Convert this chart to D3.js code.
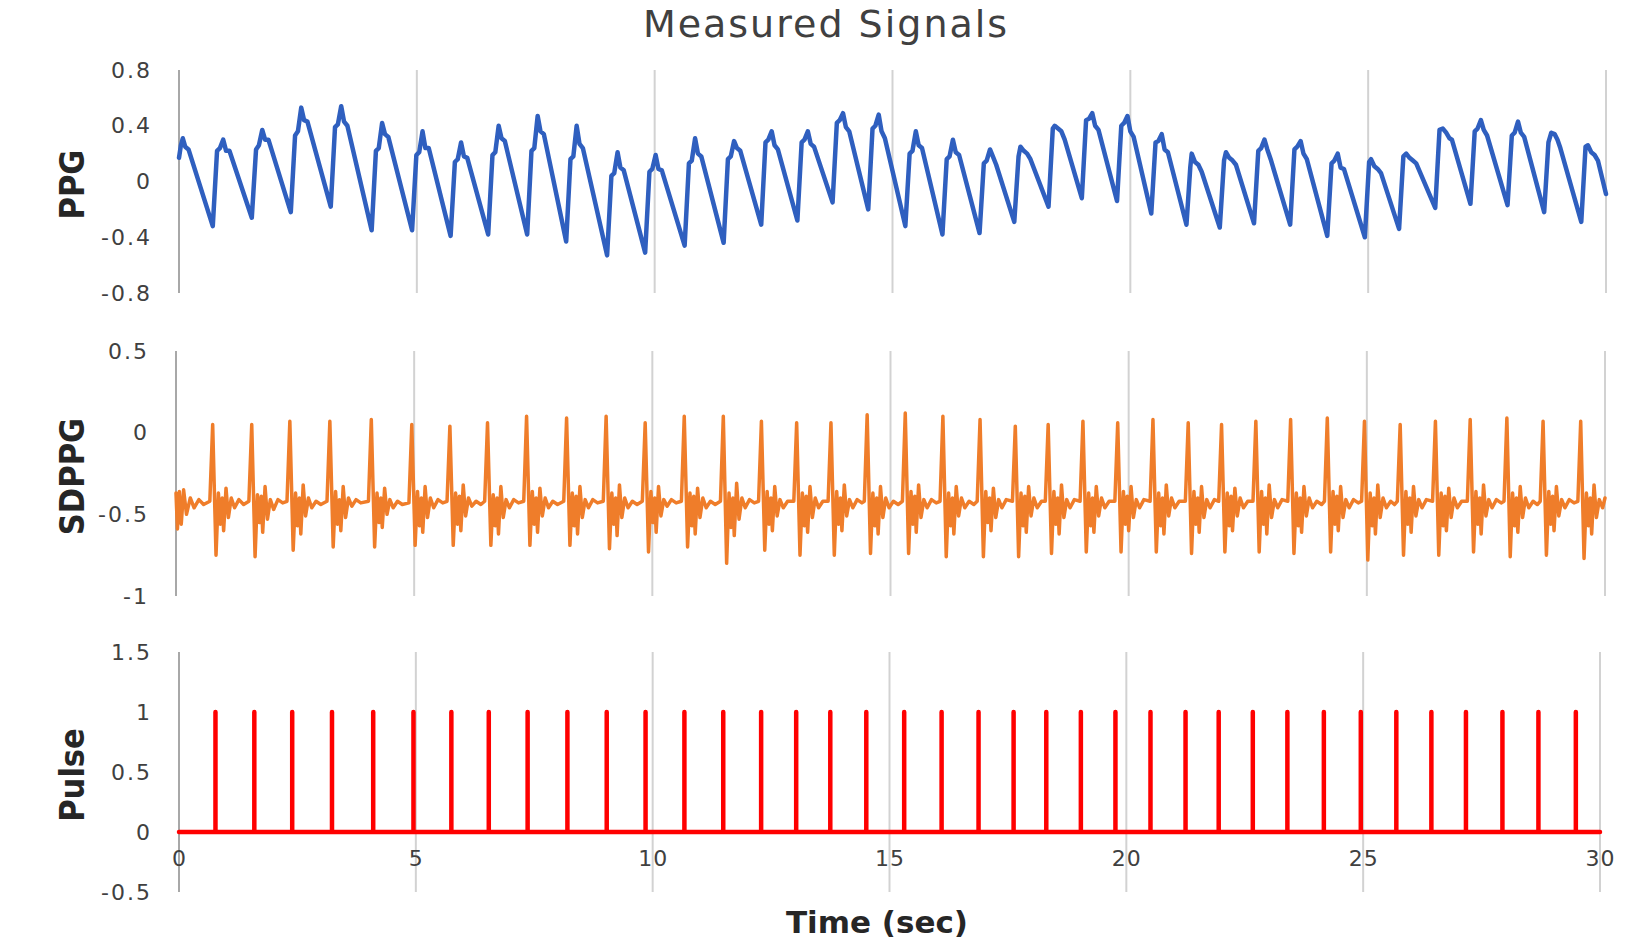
<!DOCTYPE html>
<html><head><meta charset="utf-8">
<script src="https://cdn.jsdelivr.net/npm/d3@7"></script>
<style>body{margin:0;background:#fff}svg{display:block}</style>
</head><body><svg id="c" width="1650" height="945"></svg>
<script>
// ---------- data ----------
const timeTicks = [0, 5, 10, 15, 20, 25, 30];
const ppgTicks = [-0.8, -0.4, 0, 0.4, 0.8];
const sdppgTicks = [-1, -0.5, 0, 0.5];
const pulseTicks = [-0.5, 0, 0.5, 1, 1.5];

// PPG signal vertices [time (s), value]
const ppg = [
[0.00,0.17],[0.04,0.26],[0.08,0.31],[0.13,0.25],[0.20,0.23],
[0.71,-0.32],[0.80,0.22],[0.86,0.24],[0.93,0.30],[0.99,0.22],[1.06,0.22],
[1.53,-0.26],[1.62,0.23],[1.68,0.26],[1.75,0.37],[1.81,0.30],[1.88,0.30],
[2.35,-0.22],[2.44,0.33],[2.50,0.36],[2.57,0.53],[2.63,0.44],[2.70,0.43],
[3.19,-0.18],[3.28,0.39],[3.34,0.41],[3.41,0.54],[3.47,0.43],[3.54,0.40],
[4.05,-0.35],[4.14,0.22],[4.20,0.24],[4.27,0.42],[4.33,0.34],[4.40,0.32],
[4.90,-0.35],[4.99,0.19],[5.05,0.21],[5.12,0.36],[5.18,0.24],[5.25,0.24],
[5.71,-0.39],[5.80,0.14],[5.86,0.16],[5.93,0.28],[5.99,0.18],[6.06,0.17],
[6.50,-0.38],[6.59,0.19],[6.65,0.21],[6.72,0.40],[6.78,0.31],[6.85,0.29],
[7.32,-0.38],[7.41,0.22],[7.47,0.24],[7.54,0.47],[7.60,0.36],[7.67,0.34],
[8.14,-0.43],[8.23,0.16],[8.29,0.18],[8.36,0.40],[8.42,0.27],[8.49,0.24],
[9.00,-0.53],[9.09,0.04],[9.15,0.06],[9.22,0.21],[9.28,0.10],[9.35,0.08],
[9.80,-0.51],[9.89,0.07],[9.95,0.09],[10.02,0.19],[10.08,0.09],[10.15,0.08],
[10.63,-0.46],[10.72,0.13],[10.78,0.15],[10.85,0.31],[10.91,0.20],[10.98,0.18],
[11.45,-0.44],[11.54,0.16],[11.60,0.18],[11.67,0.29],[11.73,0.24],[11.80,0.22],
[12.24,-0.31],[12.33,0.28],[12.39,0.30],[12.46,0.36],[12.52,0.26],[12.59,0.23],
[13.00,-0.28],[13.09,0.28],[13.15,0.30],[13.22,0.36],[13.28,0.27],[13.35,0.25],
[13.74,-0.15],[13.83,0.42],[13.89,0.44],[13.96,0.49],[14.02,0.39],[14.09,0.36],
[14.49,-0.20],[14.58,0.38],[14.64,0.40],[14.71,0.48],[14.77,0.36],[14.84,0.31],
[15.27,-0.32],[15.36,0.20],[15.42,0.22],[15.49,0.36],[15.55,0.26],[15.62,0.24],
[16.05,-0.38],[16.14,0.16],[16.20,0.18],[16.27,0.30],[16.33,0.21],[16.40,0.19],
[16.83,-0.37],[16.92,0.13],[16.98,0.15],[17.05,0.23],[17.11,0.18],[17.18,0.12],
[17.56,-0.29],[17.65,0.18],[17.69,0.25],[17.76,0.22],[17.83,0.20],[17.90,0.16],
[18.28,-0.18],[18.37,0.38],[18.41,0.40],[18.48,0.38],[18.55,0.36],[18.62,0.30],
[18.98,-0.12],[19.07,0.44],[19.13,0.45],[19.20,0.49],[19.26,0.40],[19.33,0.37],
[19.72,-0.14],[19.81,0.40],[19.87,0.42],[19.94,0.47],[20.00,0.36],[20.07,0.32],
[20.44,-0.23],[20.53,0.28],[20.59,0.29],[20.66,0.34],[20.72,0.23],[20.79,0.21],
[21.18,-0.31],[21.26,0.10],[21.29,0.20],[21.36,0.14],[21.43,0.12],[21.50,0.07],
[21.88,-0.33],[21.97,0.15],[22.01,0.21],[22.08,0.17],[22.15,0.15],[22.22,0.12],
[22.60,-0.30],[22.69,0.22],[22.75,0.24],[22.82,0.30],[22.88,0.23],[22.95,0.16],
[23.36,-0.31],[23.45,0.23],[23.51,0.25],[23.58,0.29],[23.64,0.20],[23.71,0.16],
[24.14,-0.39],[24.23,0.13],[24.29,0.15],[24.36,0.20],[24.42,0.10],[24.49,0.09],
[24.93,-0.40],[25.02,0.14],[25.06,0.16],[25.13,0.11],[25.20,0.09],[25.27,0.06],
[25.65,-0.34],[25.74,0.18],[25.80,0.20],[25.87,0.17],[25.94,0.15],[26.01,0.13],
[26.41,-0.19],[26.50,0.37],[26.57,0.38],[26.64,0.35],[26.71,0.31],[26.76,0.30],
[27.15,-0.16],[27.24,0.36],[27.30,0.38],[27.37,0.44],[27.43,0.37],[27.50,0.33],
[27.93,-0.17],[28.02,0.33],[28.08,0.35],[28.15,0.43],[28.21,0.35],[28.28,0.32],
[28.70,-0.22],[28.79,0.28],[28.85,0.35],[28.92,0.34],[28.98,0.30],[29.04,0.24],
[29.48,-0.29],[29.57,0.25],[29.62,0.26],[29.69,0.21],[29.76,0.19],[29.83,0.15],
[30.00,-0.09]
];

// SDPPG signal vertices [time (s), value]
const sdppg = [
[0.00,-0.37],[0.03,-0.59],[0.07,-0.36],[0.11,-0.56],[0.16,-0.35],[0.22,-0.50],[0.30,-0.40],[0.38,-0.46],[0.48,-0.41],[0.58,-0.44],
[0.71,-0.42],[0.77,0.05],[0.84,-0.75],[0.89,-0.37],[0.93,-0.56],[0.97,-0.40],[1.00,-0.60],[1.05,-0.34],[1.10,-0.52],[1.16,-0.40],[1.23,-0.46],[1.32,-0.41],[1.42,-0.44],
[1.53,-0.42],[1.59,0.05],[1.66,-0.76],[1.71,-0.38],[1.75,-0.55],[1.79,-0.39],[1.82,-0.61],[1.87,-0.33],[1.92,-0.53],[1.98,-0.41],[2.05,-0.47],[2.14,-0.41],[2.24,-0.43],
[2.33,-0.42],[2.39,0.07],[2.46,-0.72],[2.51,-0.37],[2.55,-0.57],[2.59,-0.40],[2.62,-0.62],[2.67,-0.32],[2.72,-0.51],[2.78,-0.40],[2.85,-0.46],[2.94,-0.42],[3.04,-0.44],
[3.17,-0.42],[3.23,0.07],[3.30,-0.70],[3.35,-0.36],[3.39,-0.56],[3.43,-0.41],[3.46,-0.60],[3.51,-0.33],[3.56,-0.52],[3.62,-0.40],[3.69,-0.45],[3.78,-0.41],[3.88,-0.43],
[4.04,-0.42],[4.10,0.08],[4.17,-0.70],[4.22,-0.37],[4.26,-0.55],[4.30,-0.40],[4.33,-0.58],[4.38,-0.34],[4.43,-0.50],[4.49,-0.41],[4.56,-0.46],[4.65,-0.42],[4.75,-0.44],
[4.89,-0.43],[4.95,0.05],[5.02,-0.69],[5.07,-0.36],[5.11,-0.57],[5.15,-0.40],[5.18,-0.61],[5.23,-0.33],[5.28,-0.52],[5.34,-0.40],[5.41,-0.46],[5.50,-0.41],[5.60,-0.43],
[5.69,-0.42],[5.75,0.04],[5.82,-0.69],[5.87,-0.37],[5.91,-0.56],[5.95,-0.39],[5.98,-0.60],[6.03,-0.32],[6.08,-0.51],[6.14,-0.40],[6.21,-0.45],[6.30,-0.42],[6.40,-0.44],
[6.48,-0.42],[6.54,0.06],[6.61,-0.69],[6.66,-0.38],[6.70,-0.57],[6.74,-0.40],[6.77,-0.62],[6.82,-0.33],[6.87,-0.52],[6.93,-0.41],[7.00,-0.46],[7.09,-0.41],[7.19,-0.43],
[7.30,-0.42],[7.36,0.10],[7.43,-0.69],[7.48,-0.36],[7.52,-0.56],[7.56,-0.40],[7.59,-0.61],[7.64,-0.34],[7.69,-0.51],[7.75,-0.40],[7.82,-0.46],[7.91,-0.42],[8.01,-0.44],
[8.14,-0.42],[8.20,0.09],[8.27,-0.69],[8.32,-0.37],[8.36,-0.57],[8.40,-0.39],[8.43,-0.62],[8.48,-0.33],[8.53,-0.52],[8.59,-0.41],[8.66,-0.46],[8.75,-0.41],[8.85,-0.43],
[8.97,-0.42],[9.03,0.10],[9.10,-0.71],[9.15,-0.37],[9.19,-0.56],[9.23,-0.40],[9.26,-0.63],[9.31,-0.32],[9.36,-0.52],[9.42,-0.40],[9.49,-0.46],[9.58,-0.42],[9.68,-0.44],
[9.79,-0.42],[9.85,0.06],[9.92,-0.73],[9.97,-0.36],[10.01,-0.55],[10.05,-0.40],[10.08,-0.61],[10.13,-0.33],[10.18,-0.51],[10.24,-0.41],[10.31,-0.45],[10.40,-0.41],[10.50,-0.43],
[10.61,-0.42],[10.67,0.10],[10.74,-0.70],[10.79,-0.37],[10.83,-0.57],[10.87,-0.39],[10.90,-0.62],[10.95,-0.34],[11.00,-0.52],[11.06,-0.40],[11.13,-0.46],[11.22,-0.42],[11.32,-0.44],
[11.43,-0.42],[11.49,0.10],[11.56,-0.80],[11.61,-0.37],[11.65,-0.58],[11.69,-0.40],[11.72,-0.63],[11.77,-0.31],[11.82,-0.53],[11.88,-0.40],[11.95,-0.46],[12.04,-0.41],[12.14,-0.43],
[12.23,-0.42],[12.29,0.07],[12.36,-0.72],[12.41,-0.36],[12.45,-0.56],[12.49,-0.40],[12.52,-0.60],[12.57,-0.33],[12.62,-0.51],[12.68,-0.41],[12.75,-0.46],[12.84,-0.42],
[12.97,-0.42],[13.03,0.06],[13.10,-0.75],[13.15,-0.37],[13.19,-0.57],[13.23,-0.39],[13.26,-0.61],[13.31,-0.33],[13.36,-0.52],[13.42,-0.40],[13.49,-0.46],[13.58,-0.42],
[13.69,-0.42],[13.75,0.06],[13.82,-0.75],[13.87,-0.36],[13.91,-0.56],[13.95,-0.40],[13.98,-0.60],[14.03,-0.32],[14.08,-0.51],[14.14,-0.41],[14.21,-0.46],[14.30,-0.41],[14.40,-0.43],
[14.45,-0.42],[14.51,0.11],[14.58,-0.74],[14.63,-0.37],[14.67,-0.57],[14.71,-0.40],[14.74,-0.62],[14.79,-0.33],[14.84,-0.52],[14.90,-0.40],[14.97,-0.46],[15.06,-0.42],[15.16,-0.44],
[15.25,-0.42],[15.31,0.12],[15.38,-0.74],[15.43,-0.36],[15.47,-0.56],[15.51,-0.39],[15.54,-0.61],[15.59,-0.32],[15.64,-0.52],[15.70,-0.41],[15.77,-0.46],[15.86,-0.41],[15.96,-0.43],
[16.04,-0.42],[16.10,0.10],[16.17,-0.76],[16.22,-0.37],[16.26,-0.57],[16.30,-0.40],[16.33,-0.62],[16.38,-0.33],[16.43,-0.51],[16.49,-0.40],[16.56,-0.46],[16.65,-0.42],[16.75,-0.44],
[16.82,-0.42],[16.88,0.08],[16.95,-0.76],[17.00,-0.36],[17.04,-0.55],[17.08,-0.40],[17.11,-0.60],[17.16,-0.34],[17.21,-0.52],[17.27,-0.41],[17.34,-0.46],[17.43,-0.41],
[17.56,-0.42],[17.62,0.04],[17.69,-0.76],[17.74,-0.37],[17.78,-0.57],[17.82,-0.39],[17.85,-0.61],[17.90,-0.33],[17.95,-0.51],[18.01,-0.40],[18.08,-0.46],[18.17,-0.42],
[18.25,-0.42],[18.31,0.05],[18.38,-0.74],[18.43,-0.36],[18.47,-0.56],[18.51,-0.40],[18.54,-0.62],[18.59,-0.32],[18.64,-0.52],[18.70,-0.41],[18.77,-0.46],[18.86,-0.41],
[18.98,-0.42],[19.04,0.07],[19.11,-0.73],[19.16,-0.37],[19.20,-0.57],[19.24,-0.40],[19.27,-0.61],[19.32,-0.33],[19.37,-0.51],[19.43,-0.40],[19.50,-0.46],[19.59,-0.42],
[19.71,-0.42],[19.77,0.06],[19.84,-0.73],[19.89,-0.36],[19.93,-0.56],[19.97,-0.39],[20.00,-0.60],[20.05,-0.33],[20.10,-0.52],[20.16,-0.41],[20.23,-0.46],[20.32,-0.41],
[20.45,-0.42],[20.51,0.08],[20.58,-0.73],[20.63,-0.37],[20.67,-0.57],[20.71,-0.40],[20.74,-0.62],[20.79,-0.32],[20.84,-0.51],[20.90,-0.40],[20.97,-0.46],[21.06,-0.42],
[21.19,-0.42],[21.25,0.06],[21.32,-0.74],[21.37,-0.36],[21.41,-0.56],[21.45,-0.40],[21.48,-0.61],[21.53,-0.33],[21.58,-0.52],[21.64,-0.41],[21.71,-0.46],[21.80,-0.41],
[21.89,-0.42],[21.95,0.05],[22.02,-0.73],[22.07,-0.37],[22.11,-0.57],[22.15,-0.39],[22.18,-0.60],[22.23,-0.34],[22.28,-0.51],[22.34,-0.40],[22.41,-0.46],[22.50,-0.42],
[22.61,-0.42],[22.67,0.07],[22.74,-0.73],[22.79,-0.36],[22.83,-0.56],[22.87,-0.40],[22.90,-0.62],[22.95,-0.32],[23.00,-0.52],[23.06,-0.41],[23.13,-0.46],[23.22,-0.41],
[23.34,-0.42],[23.40,0.08],[23.47,-0.74],[23.52,-0.37],[23.56,-0.57],[23.60,-0.40],[23.63,-0.61],[23.68,-0.33],[23.73,-0.51],[23.79,-0.40],[23.86,-0.46],[23.95,-0.42],[24.05,-0.44],
[24.11,-0.42],[24.17,0.09],[24.24,-0.73],[24.29,-0.36],[24.33,-0.56],[24.37,-0.39],[24.40,-0.60],[24.45,-0.33],[24.50,-0.52],[24.56,-0.41],[24.63,-0.46],[24.72,-0.41],[24.82,-0.43],
[24.89,-0.42],[24.95,0.07],[25.02,-0.78],[25.07,-0.37],[25.11,-0.57],[25.15,-0.40],[25.18,-0.62],[25.23,-0.32],[25.28,-0.52],[25.34,-0.40],[25.41,-0.46],[25.50,-0.42],[25.58,-0.44],
[25.64,-0.42],[25.70,0.05],[25.77,-0.75],[25.82,-0.36],[25.86,-0.56],[25.90,-0.40],[25.93,-0.61],[25.98,-0.33],[26.03,-0.51],[26.09,-0.41],[26.16,-0.46],[26.25,-0.41],
[26.38,-0.42],[26.44,0.07],[26.51,-0.75],[26.56,-0.37],[26.60,-0.57],[26.64,-0.39],[26.67,-0.60],[26.72,-0.34],[26.77,-0.52],[26.83,-0.40],[26.90,-0.46],[26.99,-0.42],
[27.11,-0.42],[27.17,0.08],[27.24,-0.73],[27.29,-0.36],[27.33,-0.56],[27.37,-0.40],[27.40,-0.62],[27.45,-0.32],[27.50,-0.51],[27.56,-0.41],[27.63,-0.46],[27.72,-0.41],[27.82,-0.43],
[27.88,-0.42],[27.94,0.09],[28.01,-0.76],[28.06,-0.37],[28.10,-0.57],[28.14,-0.40],[28.17,-0.61],[28.22,-0.33],[28.27,-0.52],[28.33,-0.40],[28.40,-0.46],[28.49,-0.42],[28.58,-0.44],
[28.64,-0.42],[28.70,0.07],[28.77,-0.75],[28.82,-0.36],[28.86,-0.56],[28.90,-0.39],[28.93,-0.60],[28.98,-0.33],[29.03,-0.51],[29.09,-0.41],[29.16,-0.46],[29.25,-0.41],[29.35,-0.43],
[29.43,-0.42],[29.49,0.07],[29.56,-0.77],[29.61,-0.37],[29.65,-0.57],[29.69,-0.40],[29.72,-0.62],[29.77,-0.32],[29.82,-0.52],[29.88,-0.41],[29.95,-0.46],[30.00,-0.40]
];

// Pulse detection times (s); each pulse has height 1
const pulseTimes = [0.77,1.59,2.39,3.23,4.10,4.95,5.75,6.54,7.36,8.20,9.03,9.85,10.67,11.49,12.29,13.03,13.75,14.51,15.31,16.10,16.88,17.62,18.31,19.04,19.77,20.51,21.25,21.95,22.67,23.40,24.17,24.95,25.70,26.44,27.17,27.94,28.70,29.49];
const pulseHeight = 1;
const timeDomain = [0, 30];

// ---------- build pulse table ----------
const pulse = [[timeDomain[0], 0]];
pulseTimes.forEach(t => { pulse.push([t, 0], [t, pulseHeight], [t, 0]); });
pulse.push([timeDomain[1], 0]);

// ---------- layout ----------
const svg = d3.select('#c');
const TXT = '#404040';
const panels = [
  {label:'PPG',   data:ppg,   domain:[-0.8,0.8], ticks:ppgTicks,   xr:[179,1606], yr:[293,70],  color:'#2f5fbf', w:4.5},
  {label:'SDPPG', data:sdppg, domain:[-1,0.5],   ticks:sdppgTicks, xr:[176,1605], yr:[596,351], color:'#ef7d2a', w:3.5},
  {label:'Pulse', data:pulse, domain:[-0.5,1.5], ticks:pulseTicks, xr:[179,1600], yr:[892,652], color:'#ff0000', w:4.5}
];

panels.forEach((p, i) => {
  const x = d3.scaleLinear().domain(timeDomain).range(p.xr);
  const y = d3.scaleLinear().domain(p.domain).range(p.yr);
  p.x = x; p.y = y;
  const g = svg.append('g');
  // vertical gridlines
  g.selectAll('line.grid').data(timeTicks).enter().append('line')
    .attr('x1', d => x(d)).attr('x2', d => x(d))
    .attr('y1', p.yr[1]).attr('y2', p.yr[0])
    .attr('stroke', d => d === 0 ? '#a8a8a8' : '#d2d2d2')
    .attr('stroke-width', 2);
  // signal
  g.append('path').datum(p.data)
    .attr('d', d3.line().x(d => x(d[0])).y(d => y(d[1])))
    .attr('fill', 'none').attr('stroke', p.color).attr('stroke-width', p.w)
    .attr('stroke-linejoin', 'round').attr('stroke-linecap', 'round');
  // y axis
  const ax = g.append('g').attr('transform', `translate(${p.xr[0]},0)`)
    .call(d3.axisLeft(y).tickValues(p.ticks).tickSize(0).tickPadding(27).tickFormat(d => String(d)));
  ax.select('.domain').remove();
  ax.selectAll('text').attr('fill', TXT).style('font-family', 'DejaVu Sans, sans-serif')
    .style('font-size', '22px').style('letter-spacing', '2px');
  // y title
  const cy = (p.yr[0] + p.yr[1]) / 2 + 3;
  svg.append('text').attr('transform', `translate(84,${cy}) rotate(-90)`)
    .attr('text-anchor', 'middle').attr('fill', '#262626')
    .style('font-family', '"Liberation Sans Narrow", "DejaVu Sans Condensed", "Arial Narrow", sans-serif')
    .style('font-weight', 'bold').style('font-size', '34px')
    .text(p.label);
});

// x axis labels (bottom panel)
const pb = panels[2];
const xa = svg.append('g').attr('transform', 'translate(0,847)')
  .call(d3.axisBottom(pb.x).tickValues(timeTicks).tickSize(0).tickPadding(3).tickFormat(d => String(d)));
xa.select('.domain').remove();
xa.selectAll('text').attr('fill', TXT).style('font-family', 'DejaVu Sans, sans-serif')
  .style('font-size', '22px').style('letter-spacing', '1px');

// x title
svg.append('text').attr('x', 877).attr('y', 933).attr('text-anchor', 'middle')
  .attr('fill', '#262626').style('font-family', 'DejaVu Sans, sans-serif')
  .style('font-weight', 'bold').style('font-size', '31px').text('Time (sec)');

// chart title
svg.append('text').attr('x', 826).attr('y', 37).attr('text-anchor', 'middle')
  .attr('fill', TXT).style('font-family', 'DejaVu Sans, sans-serif')
  .style('font-size', '38px').style('letter-spacing', '2px').text('Measured Signals');
</script>
</body></html>
